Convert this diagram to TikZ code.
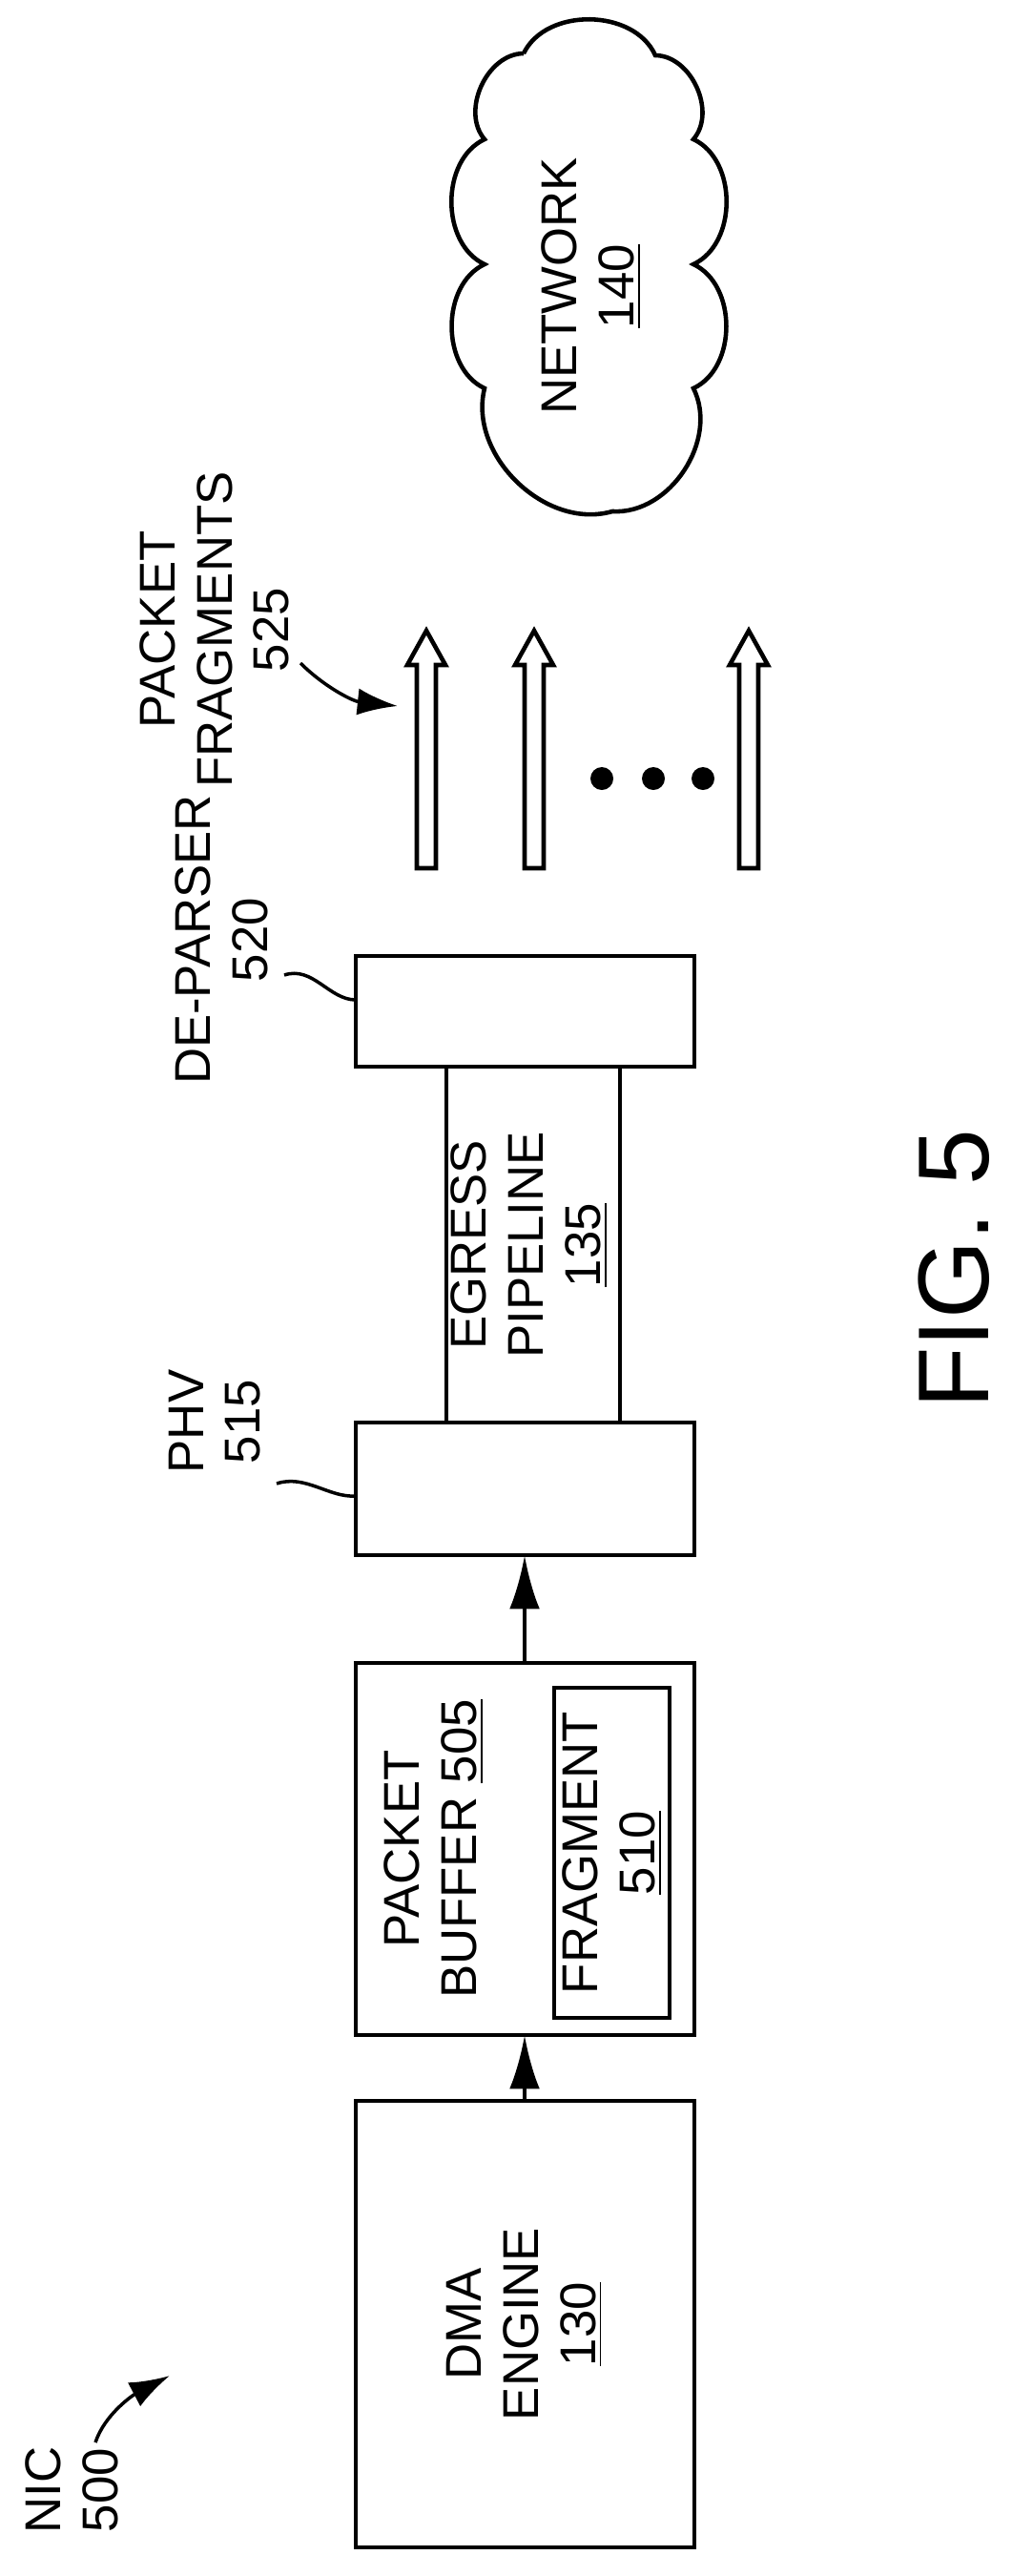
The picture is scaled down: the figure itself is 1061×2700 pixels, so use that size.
\documentclass[tikz,border=0pt]{standalone}
\usepackage{fontspec}
\setmainfont{Liberation Sans}
\usetikzlibrary{arrows.meta}
\tikzset{
  blk/.style={draw, line width=1.3pt, inner sep=0pt},
  lbl/.style={rotate=90, align=center, font=\fontsize{15}{17}\selectfont},
  lead/.style={line width=1pt},
  hollow/.style={draw, line width=1.3pt, fill=white}
}
\begin{document}
\begin{tikzpicture}[x=0.01cm, y=-0.01cm]
	\useasboundingbox (0,0) rectangle (1061,2700);
	%boxes
	\draw[line width=1.3pt] (373,2202) rectangle (728,2670);
	\node[lbl] (dma) at (550,2436) {DMA\\ENGINE\\\underline{130}};
	\draw[line width=1.3pt] (373,1743) rectangle (728,2133);
	\node[lbl] (buf) at (455,1938) {PACKET\\BUFFER \underline{505}};
	\draw[line width=1.3pt] (581,1769) rectangle (702,2115);
	\node[lbl] (frag) at (642,1942) {FRAGMENT\\\underline{510}};
	\draw[line width=1.3pt] (373,1491) rectangle (728,1630);
	\draw[line width=1.3pt] (468,1118) rectangle (650,1491);
	\node[lbl] (egr) at (555,1305) {EGRESS\\PIPELINE\\\underline{135}};
	\draw[line width=1.3pt] (373,1002) rectangle (728,1118);
	%connectors
	\coordinate (dmaT) at (550,2202);
	\coordinate (bufB) at (550,2133);
	\coordinate (bufT) at (550,1743);
	\coordinate (phvB) at (550,1630);
	\draw[line width=1.3pt, -{Latex[length=16pt,width=9pt]}] (dmaT) -- (bufB);
	\draw[line width=1.3pt, -{Latex[length=16pt,width=9pt]}] (bufT) -- (phvB);
	%fragments
	\foreach \x in {447,560,785}
	\draw[hollow] (\x-10,910) -- (\x-10,697) -- (\x-20,697) -- (\x,661)
	  -- (\x+20,697) -- (\x+10,697) -- (\x+10,910) -- cycle;
	\foreach \x in {631,685,737}
	\fill (\x,816) circle (12);
	%cloud
	\draw[line width=1.3pt] (549,56) to[bend left=65] (687,58)
	  to[bend left=65] (727,146) to[bend left=65] (727,277)
	  to[bend left=65] (727,407) to[bend left=60] (642,536)
	  to[bend left=60] (508,407) to[bend left=65] (508,277)
	  to[bend left=65] (508,146) to[bend left=65] (549,56);
	\node[lbl] (net) at (620,300) {NETWORK\\\underline{140}};
	%labels
	\node[lbl] (nic) at (75,2610) {NIC\\500};
	\draw[lead, -{Latex[length=12pt,width=8pt]}] (100,2560) .. controls (110,2530) and (140,2510) .. (178,2490);
	\node[lbl] (phv) at (225,1490) {PHV\\515};
	\draw[lead] (290,1555) .. controls (320,1545) and (345,1570) .. (373,1568);
	\node[lbl] (dep) at (232,985) {DE-PARSER\\520};
	\draw[lead] (298,1022) .. controls (328,1012) and (345,1048) .. (373,1048);
	\node[lbl] (pf) at (225,660) {PACKET\\FRAGMENTS\\525};
	\draw[lead, -{Latex[length=12pt,width=8pt]}] (315,695) .. controls (340,720) and (370,735) .. (417,740);
	\node[rotate=90, font=\fontsize{30}{34}\selectfont] (fig) at (1000,1330) {FIG. 5};
\end{tikzpicture}
\end{document}
